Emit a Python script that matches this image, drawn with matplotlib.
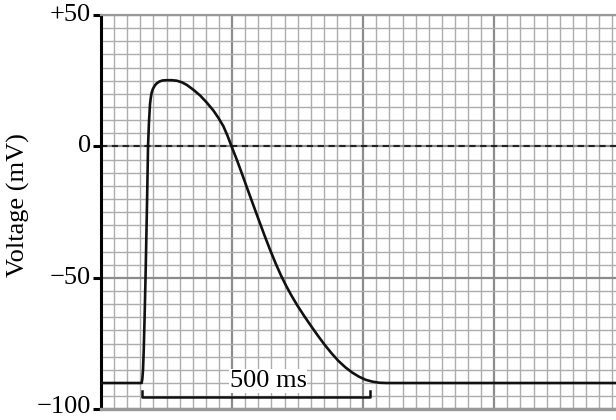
import numpy as np
import matplotlib
matplotlib.use("Agg")
import matplotlib.pyplot as plt
import matplotlib.transforms as mtransforms
from matplotlib.ticker import MultipleLocator

# --- data (time in ms, voltage in mV) ---
time_ms = [0, 89, 90.5, 92, 93.5, 95.5, 97.5, 99.5, 101.5, 103, 105, 107.3, 109, 111,
           114, 118, 122, 128, 135, 144, 155, 166, 177, 188, 202, 217, 231, 246,
           257, 268, 277, 286, 298, 310, 322, 334, 346, 358, 370, 382, 394, 406,
           418, 430, 445, 460, 475, 490, 505, 520, 535, 550, 565, 580, 595, 610,
           625, 1130]
voltage_mv = [-90, -90, -88.5, -85, -78, -65, -50, -33, -15, 0, 9, 16, 18.5, 20.5,
              22, 23.2, 24, 24.7, 25.1, 25.2, 25.2, 25, 24.4, 23.4, 21.6, 19.4, 16.8, 13.7,
              10.9, 7.7, 4.1, 0, -5.3, -11, -16.8, -22.5, -28.2, -33.8, -39.2, -44.3, -49,
              -53.2, -57, -60.5, -64.5, -68.3, -72, -75.5, -78.7, -81.6, -84, -86, -87.6,
              -88.8, -89.5, -89.9, -90, -90]

bracket_ms = [89, 589]
bracket_label = "500 ms"
ytick_values = [50, 0, -50, -100]
ytick_labels = ["+50", "0", "\u221250", "\u2212100"]
ylabel = "Voltage (mV)"

SERIF = ["Liberation Serif", "DejaVu Serif"]
GRID_MS = 28.71

fig = plt.figure(figsize=(6.16, 4.2), dpi=100)
ax = fig.add_axes([101 / 616, (420 - 409.3) / 420, 515 / 616, 394.3 / 420])
ax.set_xlim(0, 515 / 0.4566)
ax.set_ylim(-100, 50)

# paper grid
ax.xaxis.set_minor_locator(MultipleLocator(GRID_MS))
ax.xaxis.set_major_locator(MultipleLocator(GRID_MS * 10))
ax.yaxis.set_minor_locator(MultipleLocator(5))
ax.set_yticks(ytick_values)
ax.tick_params(axis="x", which="both", length=0, labelbottom=False)
ax.tick_params(axis="y", which="minor", length=0)
ax.tick_params(axis="y", which="major", length=6, width=2.2, direction="out",
               color="black", labelleft=False)
ax.grid(which="minor", color="#adadad", linewidth=1.0)
ax.grid(which="major", color="#8c8c8c", linewidth=1.6)
ax.set_axisbelow(True)

ax.spines["right"].set_visible(False)
ax.spines["left"].set_color("black")
ax.spines["left"].set_linewidth(2.2)
ax.spines["bottom"].set_color("#999999")
ax.spines["bottom"].set_linewidth(2.4)
ax.spines["top"].set_color("#999999")
ax.spines["top"].set_linewidth(1.6)

# y tick labels (drawn as text so the bottom one stays inside the figure)
lab_tr = mtransforms.blended_transform_factory(ax.transAxes, ax.transData)
for v, lab in zip(ytick_values, ytick_labels):
    yv = v + (1.0 if v == -100 else 0.0)
    ax.text(-0.019, yv, lab, transform=lab_tr, family=SERIF, fontsize=19,
            ha="right", va="center", clip_on=False)

# zero line
ax.axhline(0, color="#222222", linewidth=1.5, linestyle=(0, (3, 2.2)), zorder=2)

# action potential
ax.plot(time_ms, voltage_mv, color="#111111", linewidth=1.9, zorder=4,
        solid_joinstyle="round", solid_capstyle="round")

# 500 ms bracket
b0, b1 = bracket_ms
ax.plot([b0, b0, b1, b1], [-93, -95.2, -95.2, -93], color="#111111",
        linewidth=1.8, zorder=4)
ax.text(366, -89.3, bracket_label, family=SERIF, fontsize=19, ha="center",
        va="center", zorder=3,
        bbox=dict(facecolor="white", edgecolor="none", pad=0.5))

ax.set_ylabel(ylabel, family=SERIF, fontsize=19)
ax.yaxis.set_label_coords(-0.138, 0.518)

fig.savefig("out.png", dpi=100)
